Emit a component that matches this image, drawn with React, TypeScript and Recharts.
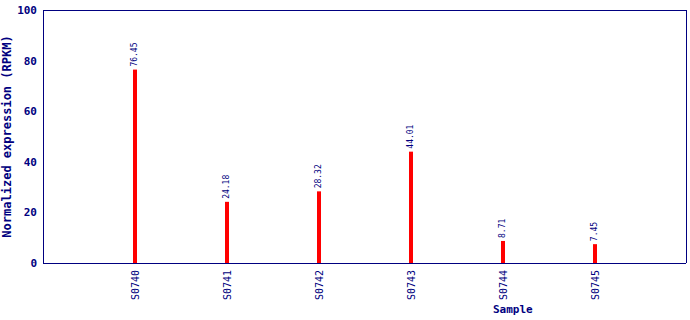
import { BarChart, Bar, XAxis, YAxis, LabelList } from 'recharts';

const samples = ['S0740', 'S0741', 'S0742', 'S0743', 'S0744', 'S0745'];
const values = [76.45, 24.18, 28.32, 44.01, 8.71, 7.45];
const yTicks = [0, 20, 40, 60, 80, 100];

const NAVY = '#000080';
const FONT = '"DejaVu Sans Mono", "Liberation Mono", monospace';

const data = samples.map((sample, i) => ({ sample, value: values[i] }));

const axisLine = { stroke: NAVY, strokeWidth: 1, shapeRendering: 'crispEdges' };

const SampleTick = (props: any) => {
  const { x, y, payload } = props;
  const ty = y + 2;
  return (
    <text
      x={x}
      y={ty}
      transform={`rotate(-90, ${x}, ${ty})`}
      textAnchor="end"
      dominantBaseline="central"
      fill={NAVY}
      fontFamily={FONT}
      fontSize={10}
    >
      {payload.value}
    </text>
  );
};

const ValueLabel = (props: any) => {
  const { x, y, width, value } = props;
  const cx = x + width / 2;
  const ty = y - 3;
  return (
    <text
      x={cx}
      y={ty}
      transform={`rotate(-90, ${cx}, ${ty})`}
      textAnchor="start"
      dominantBaseline="central"
      fill={NAVY}
      fontFamily={FONT}
      fontSize={8}
    >
      {value.toFixed(2)}
    </text>
  );
};

export default function App() {
  return (
    <div style={{ position: 'absolute', left: 0, top: 0, width: 690, height: 320 }}>
      <BarChart
        width={690}
        height={320}
        data={data}
        margin={{ top: 9, right: 3, left: 0, bottom: 0 }}
      >
        <XAxis
          dataKey="sample"
          height={57}
          axisLine={axisLine}
          tickLine={false}
          tickSize={5}
          tickMargin={0}
          interval={0}
          padding={{ left: 46, right: 45 }}
          tick={<SampleTick />}
          label={{
            value: 'Sample',
            position: 'insideBottomLeft',
            dx: 445,
            dy: -2,
            fill: NAVY,
            fontFamily: FONT,
            fontSize: 11,
            fontWeight: 'bold',
          }}
        />
        <XAxis xAxisId="top" orientation="top" dataKey="sample" height={1} axisLine={axisLine} tick={false} tickLine={false} />
        <YAxis
          width={43}
          domain={[0, 100]}
          ticks={yTicks}
          axisLine={axisLine}
          tickLine={false}
          tickSize={6}
          tickMargin={0}
          tick={{ fill: NAVY, fontFamily: FONT, fontSize: 11, fontWeight: 'bold' }}
          label={{
            value: 'Normalized expression (RPKM)',
            angle: -90,
            position: 'insideLeft',
            dx: 2,
            fill: NAVY,
            fontFamily: FONT,
            fontSize: 12,
            fontWeight: 'bold',
            style: { textAnchor: 'middle' },
          }}
        />
        <YAxis yAxisId="right" orientation="right" width={1} axisLine={axisLine} tick={false} tickLine={false} domain={[0, 100]} />
        <Bar dataKey="value" fill="#ff0000" barSize={4} isAnimationActive={false}>
          <LabelList dataKey="value" content={<ValueLabel />} />
        </Bar>
      </BarChart>
    </div>
  );
}
